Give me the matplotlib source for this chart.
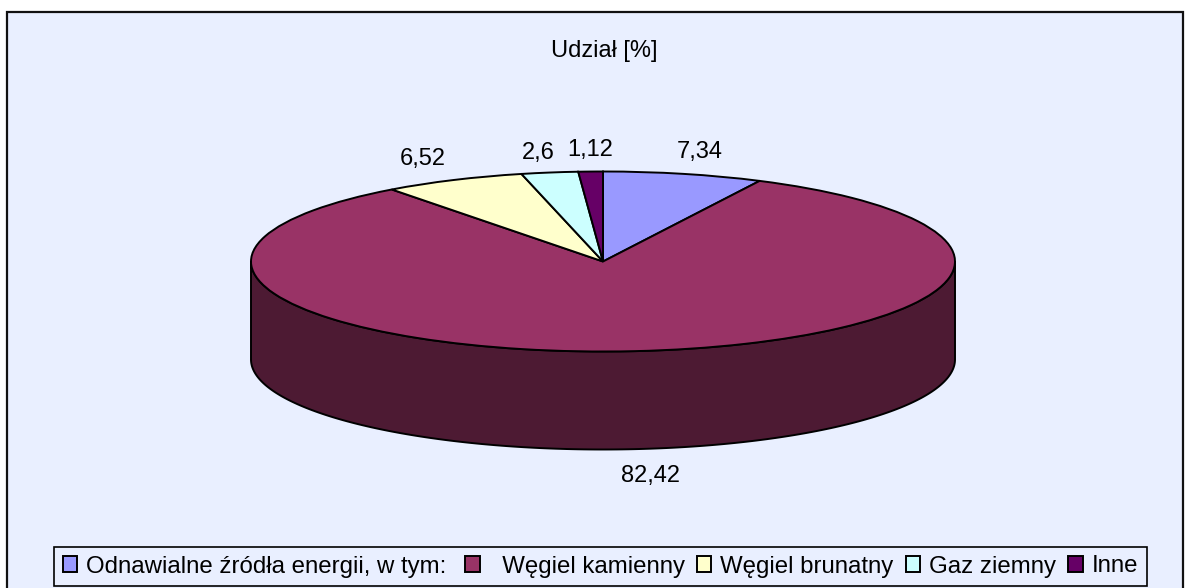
import matplotlib
matplotlib.use('Agg')
import matplotlib.pyplot as plt
from matplotlib.patches import Rectangle
import numpy as np

plt.rcParams['font.family'] = ['Liberation Sans', 'DejaVu Sans']

categories = ['Odnawialne źródła energii, w tym: ', '  Węgiel kamienny', 'Węgiel brunatny', 'Gaz ziemny', 'Inne']
values = [7.34, 82.42, 6.52, 2.6, 1.12]
colors = ['#9999FF', '#993366', '#FFFFCC', '#CCFFFF', '#660066']
side_color = '#4D1A33'
bg = '#E9EFFF'

W, H = 1190, 588
fig = plt.figure(figsize=(W / 100, H / 100), dpi=100)
fig.patch.set_facecolor('white')

# background panel, in pixels
page = fig.add_axes([0, 0, 1, 1])
page.set_xlim(0, W)
page.set_ylim(H, 0)
page.axis('off')
page.add_patch(Rectangle((7, 12), 1176, 600, facecolor=bg, edgecolor='#111111', linewidth=1.6))

# pie top: ellipse centre, radii
cx, cy, rx, ry, depth = 603, 261.5, 352, 90, 98
ax = fig.add_axes([(cx - rx) / W, 1 - (cy + ry) / H, 2 * rx / W, 2 * ry / H])
ax.patch.set_alpha(0)

# side wall of the big slice
t = np.linspace(np.pi, 2 * np.pi, 200)
xs = np.cos(t)
ys = np.sin(t)
wall_x = np.concatenate([xs, xs[::-1]])
wall_y = np.concatenate([ys, ys[::-1] - depth / ry])
ax.fill(wall_x, wall_y, facecolor=side_color, edgecolor='black', linewidth=1.4, clip_on=False)

wedges, _ = ax.pie(values, colors=colors, startangle=90, counterclock=False, radius=1,
                   wedgeprops=dict(edgecolor='black', linewidth=1.4, clip_on=False))
ax.set_aspect('auto')
ax.set_xlim(-1, 1)
ax.set_ylim(-1, 1)

page.text(604.5, 51, 'Udział [%]', fontsize=17, ha='center', va='center', color='black')

# data labels
label_pos = [(700, 152), (651, 476), (423, 159), (538, 153), (590, 150)]
for v, (x, y) in zip(values, label_pos):
    page.text(x, y, str(v).replace('.', ','), fontsize=17, ha='center', va='center', color='black')

leg = fig.legend(wedges, categories, ncols=5, loc='center', bbox_to_anchor=(600.5 / W, 1 - 566.5 / H),
                 frameon=True, fancybox=False, edgecolor='black', facecolor=bg, framealpha=1,
                 fontsize=17.3, handlelength=0.6, handleheight=0.6, handletextpad=0.38,
                 columnspacing=0.5, borderpad=0.37, borderaxespad=0, labelspacing=0)
leg.get_frame().set_linewidth(1.2)

fig.savefig('out.png', dpi=100, facecolor=fig.get_facecolor())
